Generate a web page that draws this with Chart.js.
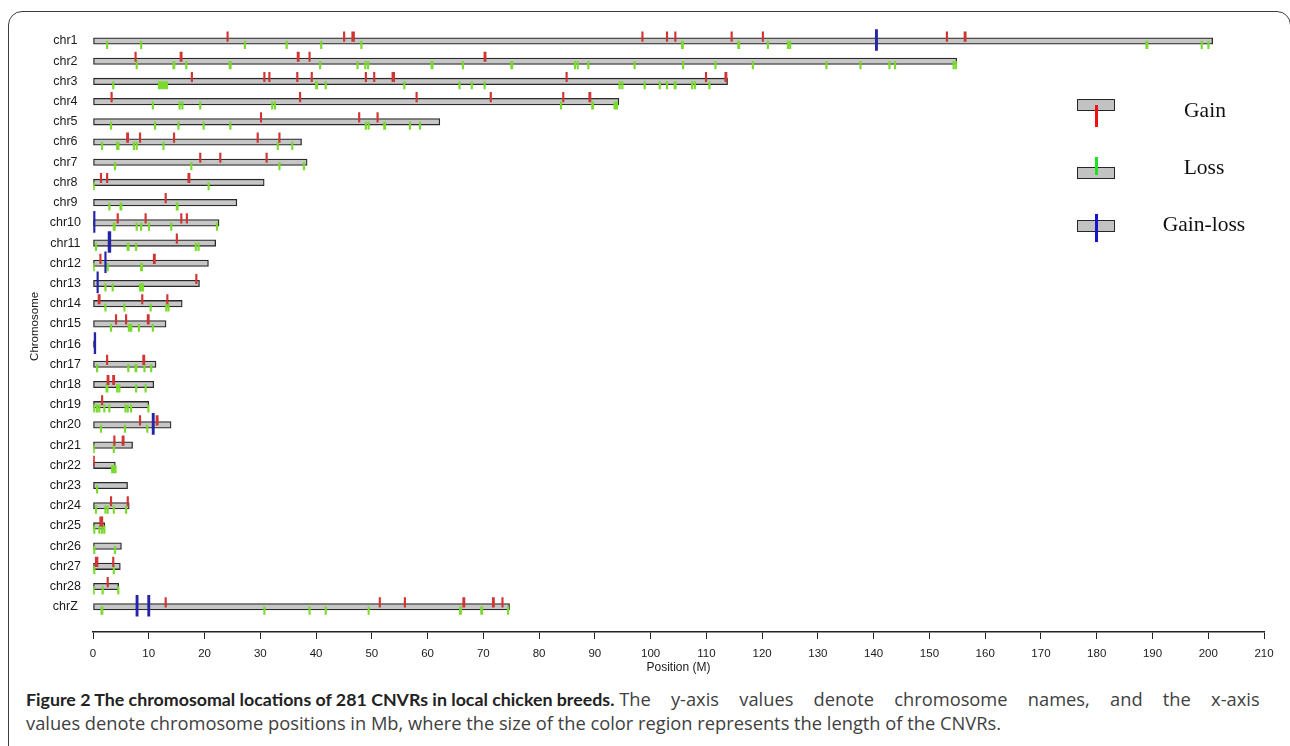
<!DOCTYPE html>
<html>
<head>
<meta charset="utf-8">
<script src="https://cdn.jsdelivr.net/npm/chart.js@4.4.1/dist/chart.umd.min.js"></script>
<style>
  body { margin: 0; background: #fff; }
  #wrap { position: relative; width: 1290px; height: 746px; overflow: hidden; }
  #frame { position: absolute; left: 8px; top: 11px; width: 1283px; height: 800px;
           box-sizing: border-box; border: 1.5px solid #3c3c3c; border-radius: 14px; }
  #chart { position: absolute; left: 0; top: 0; }
  .lg-box { position: absolute; width: 38px; height: 12px; box-sizing: border-box;
            background: #c2c2c2; border: 1.5px solid #262626; }
  .lg-line { position: absolute; width: 3px; }
  .lg-text { position: absolute; width: 120px; text-align: center; font-family: 'Liberation Serif', serif;
             font-size: 21.5px; line-height: 24px; color: #111; }
  .cap { position: absolute; left: 26px; font-family: 'Open Sans', sans-serif; white-space: nowrap;
         font-size: 18.3px; line-height: 24px; color: #404040; }
  #cap1 { top: 687px; }
  #cap1 span { word-spacing: 15.5px; }
  #cap2 { top: 711px; }
  .cap b { font-family: Lato, sans-serif; font-weight: 700; font-size: 17.8px; color: #222; }
</style>
</head>
<body>
<div id="wrap">
  <div id="frame"></div>
  <canvas id="chart" width="1290" height="680"></canvas>

  <div class="lg-box" style="left:1077px; top:99px;"></div>
  <div class="lg-line" style="left:1095px; top:105px; height:22px; background:#f01212;"></div>
  <div class="lg-text" style="left:1145px; top:98px;">Gain</div>

  <div class="lg-box" style="left:1077px; top:167px;"></div>
  <div class="lg-line" style="left:1095px; top:157px; height:18px; background:#22e022;"></div>
  <div class="lg-text" style="left:1144px; top:155px;">Loss</div>

  <div class="lg-box" style="left:1077px; top:220px;"></div>
  <div class="lg-line" style="left:1095px; top:214px; height:28px; background:#1515d0;"></div>
  <div class="lg-text" style="left:1144px; top:212px;">Gain-loss</div>

  <div id="cap1" class="cap"><b>Figure 2 The chromosomal locations of 281 CNVRs in local chicken breeds.</b> <span>The y-axis values denote chromosome names, and the x-axis</span></div>
  <div id="cap2" class="cap">values denote chromosome positions in Mb, where the size of the color region represents the length of the CNVRs.</div>
</div>

<script>
// chromosome names and lengths (Mb)
const chromosomes = ['chr1', 'chr2', 'chr3', 'chr4', 'chr5', 'chr6', 'chr7', 'chr8', 'chr9', 'chr10',
    'chr11', 'chr12', 'chr13', 'chr14', 'chr15', 'chr16', 'chr17', 'chr18', 'chr19', 'chr20',
    'chr21', 'chr22', 'chr23', 'chr24', 'chr25', 'chr26', 'chr27', 'chr28', 'chrZ'];
const chromLengths = [200.8, 154.9, 113.8, 94.3, 62.2, 37.4, 38.4, 30.7, 25.8, 22.6,
    22.0, 20.7, 19.1, 16.0, 13.1, 0.4, 11.3, 10.9, 10.0, 14.0,
    7.1, 4.0, 6.2, 6.5, 2.1, 5.1, 4.9, 4.6, 74.7];

// CNVRs: [chromosome, start, end] in Mb
const gainRegions = [
    ['chr1', 24.0, 24.2], ['chr1', 44.9, 45.1], ['chr1', 46.4, 46.9], ['chr1', 98.4, 98.6], ['chr1', 102.8, 103.0],
    ['chr1', 104.3, 104.5], ['chr1', 114.4, 114.6], ['chr1', 120.0, 120.2], ['chr1', 153.0, 153.2], ['chr1', 156.2, 156.6],
    ['chr2', 7.5, 7.7], ['chr2', 15.6, 16.0], ['chr2', 36.6, 37.0], ['chr2', 38.7, 38.9], ['chr2', 70.1, 70.5],
    ['chr3', 17.6, 17.8], ['chr3', 30.6, 30.8], ['chr3', 31.5, 31.7], ['chr3', 36.5, 36.7], ['chr3', 39.1, 39.3],
    ['chr3', 48.8, 49.0], ['chr3', 50.3, 50.5], ['chr3', 53.6, 54.1], ['chr3', 84.8, 85.0], ['chr3', 109.8, 110.0],
    ['chr3', 113.3, 113.7],
    ['chr4', 3.2, 3.4], ['chr4', 37.0, 37.2], ['chr4', 57.9, 58.1], ['chr4', 71.2, 71.4], ['chr4', 84.2, 84.4], ['chr4', 88.9, 89.3],
    ['chr5', 30.0, 30.2], ['chr5', 47.6, 47.8], ['chr5', 50.9, 51.1],
    ['chr6', 6.0, 6.4], ['chr6', 8.3, 8.5], ['chr6', 14.4, 14.6], ['chr6', 29.4, 29.6], ['chr6', 33.3, 33.5],
    ['chr7', 19.1, 19.3], ['chr7', 22.7, 22.9], ['chr7', 31.0, 31.2],
    ['chr8', 1.3, 1.5], ['chr8', 2.4, 2.6], ['chr8', 17.0, 17.4],
    ['chr9', 12.9, 13.1],
    ['chr10', 4.3, 4.5], ['chr10', 9.3, 9.5], ['chr10', 15.7, 15.9], ['chr10', 16.7, 16.9],
    ['chr11', 14.9, 15.1],
    ['chr12', 1.2, 1.4], ['chr12', 10.8, 11.2],
    ['chr13', 18.4, 18.6],
    ['chr14', 0.9, 1.3], ['chr14', 8.7, 8.9], ['chr14', 13.2, 13.4],
    ['chr15', 4.0, 4.2], ['chr15', 5.8, 6.0], ['chr15', 9.7, 10.1],
    ['chr17', 2.4, 2.6], ['chr17', 8.9, 9.3],
    ['chr18', 2.5, 2.9], ['chr18', 3.5, 3.9],
    ['chr19', 1.5, 1.7],
    ['chr20', 8.3, 8.5], ['chr20', 11.3, 11.7],
    ['chr21', 3.7, 3.9], ['chr21', 5.2, 5.6],
    ['chr22', 0.0, 0.2],
    ['chr24', 3.1, 3.3], ['chr24', 6.1, 6.3],
    ['chr25', 1.2, 1.3], ['chr25', 1.5, 1.6],
    ['chr27', 0.4, 0.9], ['chr27', 3.5, 3.7],
    ['chr28', 2.5, 2.7],
    ['chrZ', 12.9, 13.1], ['chrZ', 51.3, 51.5], ['chrZ', 55.8, 56.0], ['chrZ', 66.3, 66.7], ['chrZ', 71.6, 72.0], ['chrZ', 73.3, 73.5]
];

const lossRegions = [
    ['chr1', 2.4, 2.6], ['chr1', 8.5, 8.7], ['chr1', 27.1, 27.3], ['chr1', 34.6, 34.8], ['chr1', 40.8, 41.0],
    ['chr1', 48.0, 48.2], ['chr1', 105.5, 105.9], ['chr1', 115.6, 116.0], ['chr1', 120.9, 121.1], ['chr1', 124.5, 124.7],
    ['chr1', 124.9, 125.1], ['chr1', 188.8, 189.2], ['chr1', 198.7, 198.9], ['chr1', 199.9, 200.1],
    ['chr2', 7.7, 7.9], ['chr2', 14.3, 14.7], ['chr2', 16.6, 16.8], ['chr2', 24.4, 24.8], ['chr2', 40.6, 40.8],
    ['chr2', 47.3, 47.5], ['chr2', 48.7, 48.9], ['chr2', 49.2, 49.4], ['chr2', 60.6, 61.0], ['chr2', 66.2, 66.4],
    ['chr2', 74.9, 75.3], ['chr2', 86.3, 86.5], ['chr2', 86.8, 87.0], ['chr2', 88.7, 88.9], ['chr2', 97.0, 97.2],
    ['chr2', 105.7, 105.9], ['chr2', 111.5, 111.7], ['chr2', 118.2, 118.4], ['chr2', 131.4, 131.6], ['chr2', 137.5, 137.7],
    ['chr2', 142.7, 142.9], ['chr2', 143.7, 143.9], ['chr2', 154.2, 154.4], ['chr2', 154.6, 154.8],
    ['chr3', 3.5, 3.7], ['chr3', 11.7, 13.4], ['chr3', 39.9, 40.3], ['chr3', 41.6, 41.8], ['chr3', 55.7, 55.9],
    ['chr3', 65.6, 65.8], ['chr3', 67.8, 68.0], ['chr3', 70.1, 70.3], ['chr3', 94.3, 94.5], ['chr3', 94.8, 95.0],
    ['chr3', 98.8, 99.0], ['chr3', 101.5, 101.7], ['chr3', 102.8, 103.0], ['chr3', 104.2, 104.6], ['chr3', 107.3, 107.5],
    ['chr3', 107.8, 108.0], ['chr3', 110.4, 110.6],
    ['chr4', 10.6, 10.8], ['chr4', 15.4, 15.6], ['chr4', 15.9, 16.1], ['chr4', 19.1, 19.3], ['chr4', 32.0, 32.2],
    ['chr4', 32.5, 32.7], ['chr4', 83.8, 84.0], ['chr4', 89.4, 89.8], ['chr4', 93.4, 94.1],
    ['chr5', 3.1, 3.3], ['chr5', 11.0, 11.2], ['chr5', 15.2, 15.4], ['chr5', 19.7, 19.9], ['chr5', 24.5, 24.7],
    ['chr5', 48.8, 49.0], ['chr5', 49.3, 49.5], ['chr5', 52.1, 52.5], ['chr5', 56.7, 56.9], ['chr5', 58.5, 58.7],
    ['chr6', 1.5, 1.7], ['chr6', 4.2, 4.7], ['chr6', 7.2, 7.4], ['chr6', 7.7, 7.9], ['chr6', 12.5, 12.7],
    ['chr6', 33.0, 33.2], ['chr6', 35.6, 35.8],
    ['chr7', 3.8, 4.0], ['chr7', 17.5, 17.7], ['chr7', 33.3, 33.5], ['chr7', 37.7, 37.9],
    ['chr8', 0.0, 0.2], ['chr8', 20.6, 20.8],
    ['chr9', 2.8, 3.0], ['chr9', 4.8, 5.2], ['chr9', 14.9, 15.3],
    ['chr10', 3.6, 4.0], ['chr10', 7.7, 7.9], ['chr10', 8.5, 8.7], ['chr10', 9.9, 10.1], ['chr10', 13.9, 14.1], ['chr10', 22.1, 22.3],
    ['chr11', 0.4, 0.6], ['chr11', 6.1, 6.5], ['chr11', 7.6, 7.8], ['chr11', 18.3, 18.5], ['chr11', 18.8, 19.0],
    ['chr12', 0.0, 0.2], ['chr12', 2.5, 2.7], ['chr12', 8.5, 8.9],
    ['chr13', 2.1, 2.3], ['chr13', 3.4, 3.6], ['chr13', 8.3, 9.1],
    ['chr14', 2.1, 2.3], ['chr14', 5.5, 5.7], ['chr14', 10.2, 10.4], ['chr14', 13.0, 13.2], ['chr14', 13.4, 13.6],
    ['chr15', 3.1, 3.3], ['chr15', 6.3, 7.0], ['chr15', 8.1, 8.3], ['chr15', 10.6, 10.8],
    ['chr17', 0.6, 0.8], ['chr17', 6.2, 6.4], ['chr17', 7.5, 7.9], ['chr17', 9.1, 9.3], ['chr17', 10.3, 10.5],
    ['chr18', 2.3, 2.7], ['chr18', 4.2, 4.4], ['chr18', 4.6, 4.8], ['chr18', 7.6, 7.8], ['chr18', 9.3, 9.5],
    ['chr19', 0.1, 0.3], ['chr19', 0.6, 0.8], ['chr19', 1.0, 1.2], ['chr19', 1.9, 2.1], ['chr19', 2.8, 3.0],
    ['chr19', 5.7, 5.9], ['chr19', 6.1, 6.3], ['chr19', 6.7, 6.9], ['chr19', 9.8, 10.0],
    ['chr20', 1.3, 1.5], ['chr20', 5.6, 5.8], ['chr20', 9.6, 9.8],
    ['chr21', 0.0, 0.2], ['chr21', 3.6, 3.8],
    ['chr22', 3.3, 3.5], ['chr22', 3.6, 3.8], ['chr22', 3.9, 4.1],
    ['chr23', 0.6, 0.8],
    ['chr24', 0.4, 0.6], ['chr24', 2.1, 2.3], ['chr24', 2.5, 2.7], ['chr24', 3.6, 3.8], ['chr24', 5.8, 6.0],
    ['chr25', 0.1, 0.3], ['chr25', 1.0, 1.2], ['chr25', 1.5, 1.7], ['chr25', 1.9, 2.1],
    ['chr26', 0.1, 0.3], ['chr26', 3.8, 4.0],
    ['chr27', 0.1, 0.3], ['chr27', 3.6, 3.8],
    ['chr28', 0.0, 0.2], ['chr28', 1.6, 1.8], ['chr28', 4.4, 4.6],
    ['chrZ', 1.4, 1.8], ['chrZ', 30.6, 30.8], ['chrZ', 38.7, 38.9], ['chrZ', 41.6, 41.8], ['chrZ', 49.3, 49.5],
    ['chrZ', 65.7, 66.1], ['chrZ', 69.5, 69.9], ['chrZ', 74.3, 74.5]
];

const gainLossRegions = [
    ['chr1', 140.3, 140.7], ['chr10', 0.1, 0.3], ['chr11', 2.7, 3.2], ['chr12', 2.1, 2.3], ['chr13', 0.7, 0.9],
    ['chr16', 0.2, 0.5], ['chr20', 10.6, 11.0], ['chrZ', 7.7, 8.1], ['chrZ', 9.8, 10.2]
];

const xTickStep = 10;
const xMax = 210;

// row number for a chromosome, 1 = chr1 at the top
function rowOf(name) {
    return chromosomes.indexOf(name) + 1;
}

function regionPoints(list, shift) {
    return list.map(r => ({ y: rowOf(r[0]) + shift, x: [r[1], r[2]] }));
}

Chart.defaults.font.family = "'Liberation Sans', Arial, sans-serif";
Chart.defaults.color = '#1a1a1a';

const markDefaults = {
    type: 'bar',
    grouped: false,
    borderWidth: 0,
    minBarLength: 1.5
};

new Chart(document.getElementById('chart'), {
    type: 'bar',
    data: {
        datasets: [
            Object.assign({}, markDefaults, {
                label: 'Gain-loss',
                data: regionPoints(gainLossRegions, -0.05),
                backgroundColor: '#2424a8',
                barThickness: 21,
                order: 1
            }),
            Object.assign({}, markDefaults, {
                label: 'Gain',
                data: regionPoints(gainRegions, -0.22),
                backgroundColor: '#d23434',
                barThickness: 9.5,
                order: 2
            }),
            Object.assign({}, markDefaults, {
                label: 'Loss',
                data: regionPoints(lossRegions, 0.19),
                backgroundColor: '#7ada2e',
                barThickness: 7.5,
                order: 3
            }),
            {
                label: 'Chromosome',
                data: chromosomes.map((c, i) => ({ y: i + 1, x: [0, chromLengths[i]] })),
                backgroundColor: '#c6c6c6',
                borderColor: '#2a2a2a',
                borderWidth: 1.3,
                borderSkipped: false,
                grouped: false,
                barThickness: 6.5,
                order: 4
            }
        ]
    },
    options: {
        indexAxis: 'y',
        responsive: false,
        animation: false,
        layout: { padding: { left: 8, right: 26, top: 20.8, bottom: 0 } },
        plugins: {
            legend: { display: false },
            tooltip: { enabled: false }
        },
        scales: {
            x: {
                type: 'linear',
                min: 0,
                max: xMax,
                grid: { drawOnChartArea: false, drawTicks: true, tickLength: 7, color: '#222', lineWidth: 1 },
                border: { display: true, color: '#222', width: 1.5 },
                ticks: { stepSize: xTickStep, autoSkip: false, maxRotation: 0, padding: 8, font: { size: 11.5 } },
                title: { display: true, text: 'Position (M)', font: { size: 12 }, padding: { top: 0, bottom: 5 } },
                afterFit: s => { s.height = 48; }
            },
            y: {
                type: 'linear',
                min: 0,
                max: 30.25,
                reverse: true,
                offset: false,
                grid: { display: false, drawTicks: false },
                border: { display: false },
                afterBuildTicks: s => { s.ticks = chromosomes.map((c, i) => ({ value: i + 1 })); },
                ticks: {
                    autoSkip: false,
                    padding: 12,
                    crossAlign: 'center',
                    font: { size: 12.5 },
                    callback: v => chromosomes[v - 1]
                },
                title: { display: true, text: 'Chromosome', font: { size: 11.5 }, padding: { top: 20, bottom: 0 } },
                afterFit: s => { s.width = 85; }
            }
        }
    }
});
</script>
</body>
</html>
